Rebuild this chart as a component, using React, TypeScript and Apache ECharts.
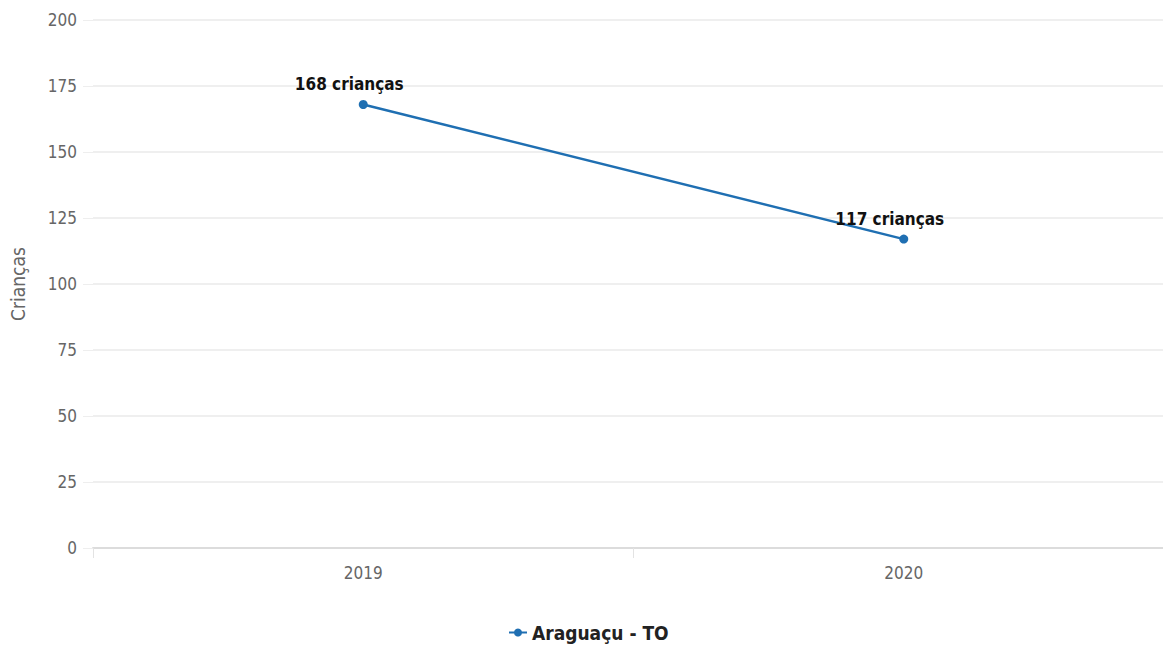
import React, { useEffect, useRef } from "react";
import * as echarts from "echarts";

const years = ["2019", "2020"];
const criancas = [168, 117];
const seriesName = "Araguaçu - TO";
const yTicks = { min: 0, max: 200, interval: 25 };

const FONT = "'Liberation Sans Narrow', 'DejaVu Sans Condensed', 'Roboto', sans-serif";

export default function App() {
  const ref = useRef<HTMLDivElement>(null);

  useEffect(() => {
    if (!ref.current) return;
    const chart = echarts.init(ref.current, null, { renderer: "svg" });
    chart.setOption({
      animation: false,
      backgroundColor: "#ffffff",
      textStyle: { fontFamily: FONT },
      // the plot runs slightly past the visible right edge
      grid: { left: 92, top: 20, right: 0, bottom: 100, containLabel: false },
      legend: {
        data: [seriesName],
        bottom: 1,
        left: 503,
        itemWidth: 18,
        itemHeight: 10,
        textStyle: { fontFamily: FONT, fontSize: 19, fontWeight: "bold", color: "#222" },
      },
      xAxis: {
        type: "category",
        data: years,
        boundaryGap: true,
        axisLine: { lineStyle: { color: "#dcdcdc", width: 2 } },
        axisTick: { show: true, length: 10, lineStyle: { color: "#e3e3e3" } },
        axisLabel: { color: "#666", fontSize: 17, margin: 16, fontFamily: FONT },
      },
      yAxis: {
        type: "value",
        min: yTicks.min,
        max: yTicks.max,
        interval: yTicks.interval,
        name: "Crianças",
        nameLocation: "middle",
        nameGap: 66,
        nameTextStyle: { color: "#666", fontSize: 19, fontFamily: FONT },
        axisLine: { show: false },
        axisTick: { show: true, length: 10, lineStyle: { color: "#eeeeee" } },
        axisLabel: { color: "#666", fontSize: 17, margin: 16, fontFamily: FONT },
        splitLine: { lineStyle: { color: "#efefef", width: 2 } },
      },
      series: [
        {
          name: seriesName,
          type: "line",
          data: criancas,
          symbol: "circle",
          symbolSize: 9,
          color: "#1f6fb2",
          lineStyle: { width: 2.5, color: "#1f6fb2" },
          itemStyle: { color: "#1f6fb2" },
          label: {
            show: true,
            position: "top",
            offset: [-14, -2],
            formatter: (p: any) => `${p.value} crianças`,
            color: "#111",
            fontSize: 17,
            fontWeight: "bold",
            fontFamily: FONT,
          },
        },
      ],
    });
    return () => chart.dispose();
  }, []);

  return (
    <div style={{ position: "fixed", left: 0, top: 0, width: 1163, height: 648, overflow: "hidden" }}>
      <div ref={ref} style={{ width: 1174, height: 648 }} />
    </div>
  );
}
